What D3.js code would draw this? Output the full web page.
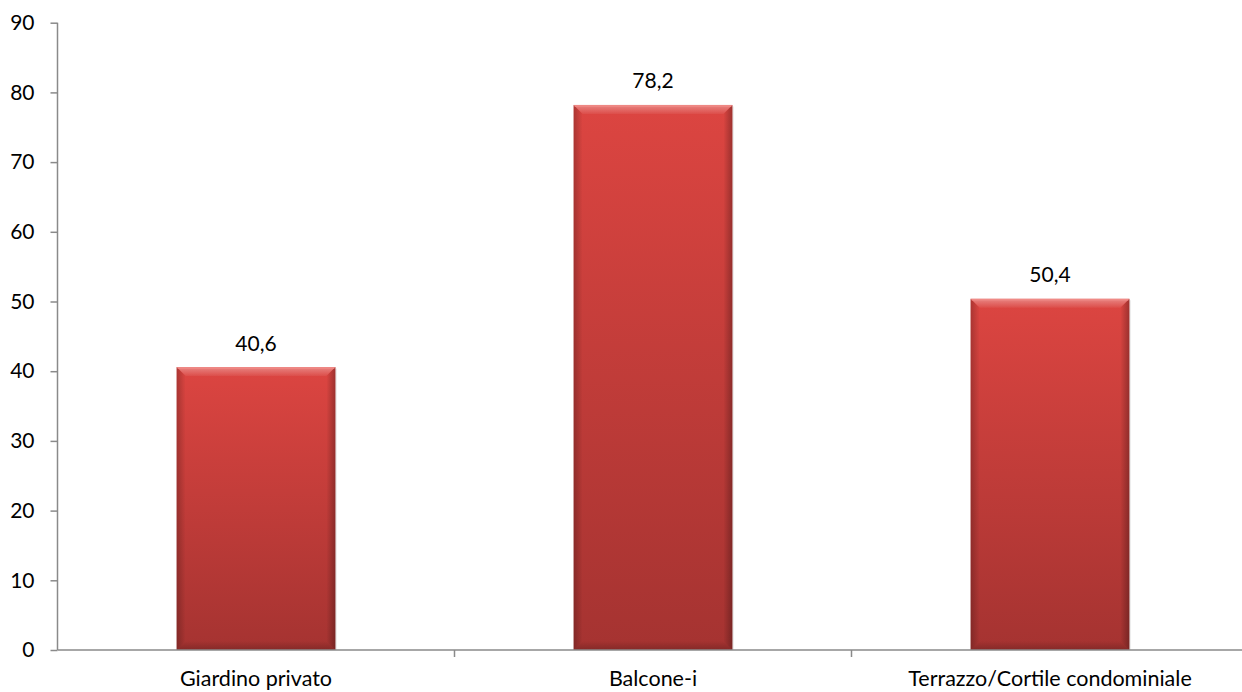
<!DOCTYPE html>
<html><head><meta charset="utf-8">
<script src="https://cdn.jsdelivr.net/npm/d3@7"></script>
<style>html,body{margin:0;padding:0;background:#fff;}svg{display:block;}</style>
</head><body><svg id="c" width="1242" height="692"></svg>
<script>
const categories = ["Giardino privato", "Balcone-i", "Terrazzo/Cortile condominiale"];
const values = [40.6, 78.2, 50.4];
const valueLabels = ["40,6", "78,2", "50,4"];
const yTicks = [0, 10, 20, 30, 40, 50, 60, 70, 80, 90];

const svg = d3.select("#c");
const FONT = "Lato, 'Open Sans', sans-serif";
const x0 = 57.5, xEnd = 1248.5, yTop = 22.7, yBot = 650;
const x = d3.scaleBand().domain(categories).range([x0, xEnd]).paddingInner(0.6).paddingOuter(0.3);
const y = d3.scaleLinear().domain([0, 90]).range([yBot, yTop]);

const defs = svg.append("defs");
const g1 = defs.append("linearGradient").attr("id","body").attr("x1",0).attr("y1",0).attr("x2",0).attr("y2",1);
g1.append("stop").attr("offset","0%").attr("stop-color","#dc4541");
g1.append("stop").attr("offset","100%").attr("stop-color","#a53331");
const gl = defs.append("linearGradient").attr("id","lside").attr("x1",0).attr("y1",0).attr("x2",1).attr("y2",0);
gl.append("stop").attr("offset","0%").attr("stop-color","#000").attr("stop-opacity",0.22);
gl.append("stop").attr("offset","100%").attr("stop-color","#000").attr("stop-opacity",0);
const gr = defs.append("linearGradient").attr("id","rside").attr("x1",1).attr("y1",0).attr("x2",0).attr("y2",0);
gr.append("stop").attr("offset","0%").attr("stop-color","#000").attr("stop-opacity",0.28);
gr.append("stop").attr("offset","100%").attr("stop-color","#000").attr("stop-opacity",0);
const gt = defs.append("linearGradient").attr("id","tside").attr("x1",0).attr("y1",0).attr("x2",0).attr("y2",1);
gt.append("stop").attr("offset","0%").attr("stop-color","#fff").attr("stop-opacity",0.35);
gt.append("stop").attr("offset","100%").attr("stop-color","#fff").attr("stop-opacity",0.05);
const gb = defs.append("linearGradient").attr("id","bside").attr("x1",0).attr("y1",1).attr("x2",0).attr("y2",0);
gb.append("stop").attr("offset","0%").attr("stop-color","#000").attr("stop-opacity",0.2);
gb.append("stop").attr("offset","100%").attr("stop-color","#000").attr("stop-opacity",0);

const bev = 9;
const bars = svg.append("g").selectAll("g").data(categories).join("g");
bars.each(function(c, i){
  const g = d3.select(this);
  const L = x(c), R = x(c) + x.bandwidth(), T = y(values[i]), B = y(0);
  g.append("rect").attr("x", L+1.5).attr("y", T+1.5).attr("width", R-L).attr("height", B-T-1.5)
    .attr("fill", "#000").attr("opacity", 0.08);
  g.append("rect").attr("x", L).attr("y", T).attr("width", R-L).attr("height", B-T).attr("fill","url(#body)");
  const poly = (pts, fill) => g.append("polygon").attr("points", pts.map(p=>p.join(",")).join(" ")).attr("fill", fill);
  poly([[L,T],[L+bev,T+bev],[L+bev,B-bev],[L,B]], "url(#lside)");
  poly([[R,T],[R-bev,T+bev],[R-bev,B-bev],[R,B]], "url(#rside)");
  poly([[L,T],[R,T],[R-bev,T+bev],[L+bev,T+bev]], "url(#tside)");
  poly([[L,B],[R,B],[R-bev,B-bev],[L+bev,B-bev]], "url(#bside)");
  g.append("line").attr("x1",L+1).attr("x2",R-1).attr("y1",T+1).attr("y2",T+1).attr("stroke","#f08a86").attr("stroke-width",1.5);
  g.append("text").attr("x", (L+R)/2).attr("y", T-25).attr("text-anchor","middle").attr("dominant-baseline","central")
    .attr("font-family", FONT).attr("font-size", 21).attr("fill","#000").text(valueLabels[i]);
});

// Y axis
const yAxis = svg.append("g").attr("transform", `translate(${x0},0)`)
  .call(d3.axisLeft(y).tickValues(yTicks).tickSize(7).tickPadding(16).tickFormat(d3.format("d")));
yAxis.select(".domain").attr("stroke","#8a8a8a").attr("stroke-width",1.5).attr("d", `M0,${yTop}V${yBot}`);
yAxis.selectAll(".tick line").attr("stroke","#8a8a8a").attr("stroke-width",1.5);
yAxis.selectAll(".tick text").attr("font-family", FONT).attr("font-size", 21).attr("fill","#000");

// X axis
const xAxis = svg.append("g").attr("transform", `translate(0,${yBot})`);
xAxis.append("path").attr("d", `M${x0},0H${xEnd}`).attr("stroke","#8a8a8a").attr("stroke-width",1.5).attr("fill","none");
const step = x.step();
xAxis.selectAll("line.sep").data(categories).join("line").attr("class","sep")
  .attr("x1", c => x(c) + x.bandwidth() + step*0.3)
  .attr("x2", c => x(c) + x.bandwidth() + step*0.3)
  .attr("y1", 0).attr("y2", 7).attr("stroke","#8a8a8a").attr("stroke-width",1.5);
xAxis.selectAll("text").data(categories).join("text")
  .attr("x", c => x(c) + x.bandwidth()/2).attr("y", 28).attr("text-anchor","middle").attr("dominant-baseline","central")
  .attr("font-family", FONT).attr("font-size", 21.5).attr("fill","#000").text(c => c);
</script></body></html>
